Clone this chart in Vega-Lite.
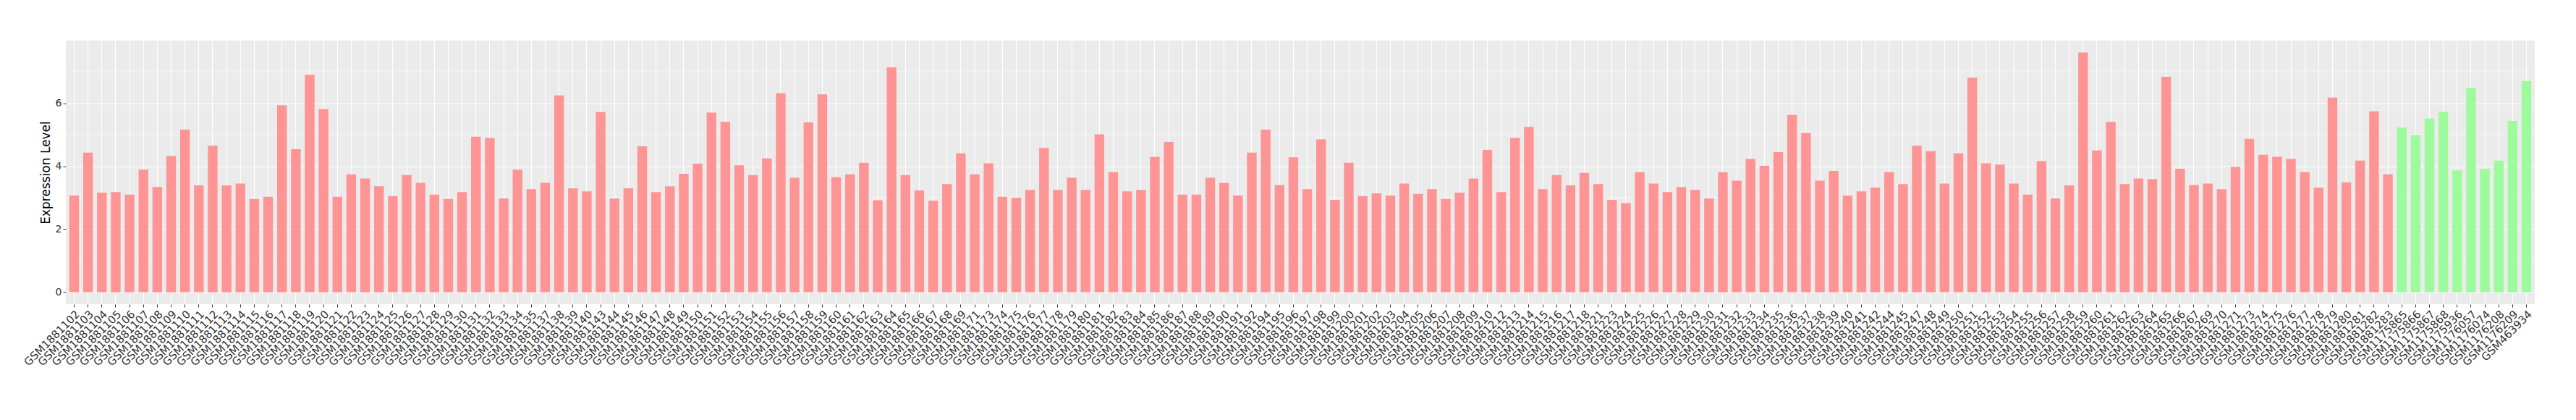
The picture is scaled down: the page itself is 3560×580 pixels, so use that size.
{
  "$schema": "https://vega.github.io/schema/vega-lite/v6.json",
  "width": 3412,
  "height": 364,
  "autosize": {"type": "none"},
  "padding": {"left": 91, "top": 56, "right": 57, "bottom": 160},
  "background": "white",
  "config": {"view": {"fill": "#EBEBEB", "stroke": null}, "font": "DejaVu Sans"},
  "data": {"values": [
    {"sample": "GSM1881102", "value": 3.07, "group": "A"},
    {"sample": "GSM1881103", "value": 4.43, "group": "A"},
    {"sample": "GSM1881104", "value": 3.16, "group": "A"},
    {"sample": "GSM1881105", "value": 3.18, "group": "A"},
    {"sample": "GSM1881106", "value": 3.10, "group": "A"},
    {"sample": "GSM1881107", "value": 3.89, "group": "A"},
    {"sample": "GSM1881108", "value": 3.34, "group": "A"},
    {"sample": "GSM1881109", "value": 4.32, "group": "A"},
    {"sample": "GSM1881110", "value": 5.16, "group": "A"},
    {"sample": "GSM1881111", "value": 3.39, "group": "A"},
    {"sample": "GSM1881112", "value": 4.65, "group": "A"},
    {"sample": "GSM1881113", "value": 3.39, "group": "A"},
    {"sample": "GSM1881114", "value": 3.45, "group": "A"},
    {"sample": "GSM1881115", "value": 2.96, "group": "A"},
    {"sample": "GSM1881116", "value": 3.03, "group": "A"},
    {"sample": "GSM1881117", "value": 5.94, "group": "A"},
    {"sample": "GSM1881118", "value": 4.54, "group": "A"},
    {"sample": "GSM1881119", "value": 6.90, "group": "A"},
    {"sample": "GSM1881120", "value": 5.81, "group": "A"},
    {"sample": "GSM1881121", "value": 3.03, "group": "A"},
    {"sample": "GSM1881122", "value": 3.74, "group": "A"},
    {"sample": "GSM1881123", "value": 3.61, "group": "A"},
    {"sample": "GSM1881124", "value": 3.36, "group": "A"},
    {"sample": "GSM1881125", "value": 3.05, "group": "A"},
    {"sample": "GSM1881126", "value": 3.72, "group": "A"},
    {"sample": "GSM1881127", "value": 3.47, "group": "A"},
    {"sample": "GSM1881128", "value": 3.10, "group": "A"},
    {"sample": "GSM1881129", "value": 2.96, "group": "A"},
    {"sample": "GSM1881130", "value": 3.18, "group": "A"},
    {"sample": "GSM1881131", "value": 4.94, "group": "A"},
    {"sample": "GSM1881132", "value": 4.90, "group": "A"},
    {"sample": "GSM1881133", "value": 2.98, "group": "A"},
    {"sample": "GSM1881134", "value": 3.89, "group": "A"},
    {"sample": "GSM1881135", "value": 3.27, "group": "A"},
    {"sample": "GSM1881137", "value": 3.47, "group": "A"},
    {"sample": "GSM1881138", "value": 6.25, "group": "A"},
    {"sample": "GSM1881139", "value": 3.30, "group": "A"},
    {"sample": "GSM1881140", "value": 3.20, "group": "A"},
    {"sample": "GSM1881143", "value": 5.72, "group": "A"},
    {"sample": "GSM1881144", "value": 2.98, "group": "A"},
    {"sample": "GSM1881145", "value": 3.30, "group": "A"},
    {"sample": "GSM1881146", "value": 4.63, "group": "A"},
    {"sample": "GSM1881147", "value": 3.18, "group": "A"},
    {"sample": "GSM1881148", "value": 3.36, "group": "A"},
    {"sample": "GSM1881149", "value": 3.76, "group": "A"},
    {"sample": "GSM1881150", "value": 4.08, "group": "A"},
    {"sample": "GSM1881151", "value": 5.70, "group": "A"},
    {"sample": "GSM1881152", "value": 5.41, "group": "A"},
    {"sample": "GSM1881153", "value": 4.03, "group": "A"},
    {"sample": "GSM1881154", "value": 3.72, "group": "A"},
    {"sample": "GSM1881155", "value": 4.25, "group": "A"},
    {"sample": "GSM1881156", "value": 6.32, "group": "A"},
    {"sample": "GSM1881157", "value": 3.63, "group": "A"},
    {"sample": "GSM1881158", "value": 5.39, "group": "A"},
    {"sample": "GSM1881159", "value": 6.28, "group": "A"},
    {"sample": "GSM1881160", "value": 3.65, "group": "A"},
    {"sample": "GSM1881161", "value": 3.74, "group": "A"},
    {"sample": "GSM1881162", "value": 4.11, "group": "A"},
    {"sample": "GSM1881163", "value": 2.92, "group": "A"},
    {"sample": "GSM1881164", "value": 7.14, "group": "A"},
    {"sample": "GSM1881165", "value": 3.72, "group": "A"},
    {"sample": "GSM1881166", "value": 3.23, "group": "A"},
    {"sample": "GSM1881167", "value": 2.90, "group": "A"},
    {"sample": "GSM1881168", "value": 3.43, "group": "A"},
    {"sample": "GSM1881169", "value": 4.41, "group": "A"},
    {"sample": "GSM1881171", "value": 3.74, "group": "A"},
    {"sample": "GSM1881173", "value": 4.09, "group": "A"},
    {"sample": "GSM1881174", "value": 3.03, "group": "A"},
    {"sample": "GSM1881175", "value": 3.00, "group": "A"},
    {"sample": "GSM1881176", "value": 3.25, "group": "A"},
    {"sample": "GSM1881177", "value": 4.58, "group": "A"},
    {"sample": "GSM1881178", "value": 3.25, "group": "A"},
    {"sample": "GSM1881179", "value": 3.63, "group": "A"},
    {"sample": "GSM1881180", "value": 3.25, "group": "A"},
    {"sample": "GSM1881181", "value": 5.01, "group": "A"},
    {"sample": "GSM1881182", "value": 3.81, "group": "A"},
    {"sample": "GSM1881183", "value": 3.20, "group": "A"},
    {"sample": "GSM1881184", "value": 3.25, "group": "A"},
    {"sample": "GSM1881185", "value": 4.30, "group": "A"},
    {"sample": "GSM1881186", "value": 4.77, "group": "A"},
    {"sample": "GSM1881187", "value": 3.10, "group": "A"},
    {"sample": "GSM1881188", "value": 3.10, "group": "A"},
    {"sample": "GSM1881189", "value": 3.63, "group": "A"},
    {"sample": "GSM1881190", "value": 3.47, "group": "A"},
    {"sample": "GSM1881191", "value": 3.07, "group": "A"},
    {"sample": "GSM1881192", "value": 4.43, "group": "A"},
    {"sample": "GSM1881194", "value": 5.16, "group": "A"},
    {"sample": "GSM1881195", "value": 3.40, "group": "A"},
    {"sample": "GSM1881196", "value": 4.28, "group": "A"},
    {"sample": "GSM1881197", "value": 3.27, "group": "A"},
    {"sample": "GSM1881198", "value": 4.85, "group": "A"},
    {"sample": "GSM1881199", "value": 2.93, "group": "A"},
    {"sample": "GSM1881200", "value": 4.11, "group": "A"},
    {"sample": "GSM1881201", "value": 3.05, "group": "A"},
    {"sample": "GSM1881202", "value": 3.14, "group": "A"},
    {"sample": "GSM1881203", "value": 3.07, "group": "A"},
    {"sample": "GSM1881204", "value": 3.45, "group": "A"},
    {"sample": "GSM1881205", "value": 3.12, "group": "A"},
    {"sample": "GSM1881206", "value": 3.27, "group": "A"},
    {"sample": "GSM1881207", "value": 2.96, "group": "A"},
    {"sample": "GSM1881208", "value": 3.16, "group": "A"},
    {"sample": "GSM1881209", "value": 3.61, "group": "A"},
    {"sample": "GSM1881210", "value": 4.52, "group": "A"},
    {"sample": "GSM1881212", "value": 3.18, "group": "A"},
    {"sample": "GSM1881213", "value": 4.90, "group": "A"},
    {"sample": "GSM1881214", "value": 5.25, "group": "A"},
    {"sample": "GSM1881215", "value": 3.27, "group": "A"},
    {"sample": "GSM1881216", "value": 3.72, "group": "A"},
    {"sample": "GSM1881217", "value": 3.39, "group": "A"},
    {"sample": "GSM1881218", "value": 3.79, "group": "A"},
    {"sample": "GSM1881221", "value": 3.43, "group": "A"},
    {"sample": "GSM1881223", "value": 2.93, "group": "A"},
    {"sample": "GSM1881224", "value": 2.83, "group": "A"},
    {"sample": "GSM1881225", "value": 3.81, "group": "A"},
    {"sample": "GSM1881226", "value": 3.45, "group": "A"},
    {"sample": "GSM1881227", "value": 3.18, "group": "A"},
    {"sample": "GSM1881228", "value": 3.34, "group": "A"},
    {"sample": "GSM1881229", "value": 3.25, "group": "A"},
    {"sample": "GSM1881230", "value": 2.98, "group": "A"},
    {"sample": "GSM1881231", "value": 3.81, "group": "A"},
    {"sample": "GSM1881232", "value": 3.54, "group": "A"},
    {"sample": "GSM1881233", "value": 4.23, "group": "A"},
    {"sample": "GSM1881234", "value": 4.01, "group": "A"},
    {"sample": "GSM1881235", "value": 4.45, "group": "A"},
    {"sample": "GSM1881236", "value": 5.63, "group": "A"},
    {"sample": "GSM1881237", "value": 5.05, "group": "A"},
    {"sample": "GSM1881238", "value": 3.54, "group": "A"},
    {"sample": "GSM1881239", "value": 3.85, "group": "A"},
    {"sample": "GSM1881240", "value": 3.07, "group": "A"},
    {"sample": "GSM1881241", "value": 3.20, "group": "A"},
    {"sample": "GSM1881242", "value": 3.32, "group": "A"},
    {"sample": "GSM1881244", "value": 3.81, "group": "A"},
    {"sample": "GSM1881245", "value": 3.43, "group": "A"},
    {"sample": "GSM1881247", "value": 4.65, "group": "A"},
    {"sample": "GSM1881248", "value": 4.48, "group": "A"},
    {"sample": "GSM1881249", "value": 3.45, "group": "A"},
    {"sample": "GSM1881250", "value": 4.41, "group": "A"},
    {"sample": "GSM1881251", "value": 6.81, "group": "A"},
    {"sample": "GSM1881252", "value": 4.09, "group": "A"},
    {"sample": "GSM1881253", "value": 4.05, "group": "A"},
    {"sample": "GSM1881254", "value": 3.45, "group": "A"},
    {"sample": "GSM1881255", "value": 3.10, "group": "A"},
    {"sample": "GSM1881256", "value": 4.16, "group": "A"},
    {"sample": "GSM1881257", "value": 2.98, "group": "A"},
    {"sample": "GSM1881258", "value": 3.39, "group": "A"},
    {"sample": "GSM1881259", "value": 7.61, "group": "A"},
    {"sample": "GSM1881260", "value": 4.50, "group": "A"},
    {"sample": "GSM1881261", "value": 5.41, "group": "A"},
    {"sample": "GSM1881262", "value": 3.43, "group": "A"},
    {"sample": "GSM1881263", "value": 3.61, "group": "A"},
    {"sample": "GSM1881264", "value": 3.59, "group": "A"},
    {"sample": "GSM1881265", "value": 6.84, "group": "A"},
    {"sample": "GSM1881266", "value": 3.92, "group": "A"},
    {"sample": "GSM1881267", "value": 3.40, "group": "A"},
    {"sample": "GSM1881269", "value": 3.45, "group": "A"},
    {"sample": "GSM1881270", "value": 3.27, "group": "A"},
    {"sample": "GSM1881271", "value": 3.98, "group": "A"},
    {"sample": "GSM1881273", "value": 4.87, "group": "A"},
    {"sample": "GSM1881274", "value": 4.36, "group": "A"},
    {"sample": "GSM1881275", "value": 4.30, "group": "A"},
    {"sample": "GSM1881276", "value": 4.23, "group": "A"},
    {"sample": "GSM1881277", "value": 3.81, "group": "A"},
    {"sample": "GSM1881278", "value": 3.32, "group": "A"},
    {"sample": "GSM1881279", "value": 6.18, "group": "A"},
    {"sample": "GSM1881280", "value": 3.49, "group": "A"},
    {"sample": "GSM1881281", "value": 4.18, "group": "A"},
    {"sample": "GSM1881282", "value": 5.74, "group": "A"},
    {"sample": "GSM1881283", "value": 3.74, "group": "A"},
    {"sample": "GSM1175865", "value": 5.23, "group": "B"},
    {"sample": "GSM1175866", "value": 4.99, "group": "B"},
    {"sample": "GSM1175867", "value": 5.52, "group": "B"},
    {"sample": "GSM1175868", "value": 5.72, "group": "B"},
    {"sample": "GSM1175936", "value": 3.87, "group": "B"},
    {"sample": "GSM1176057", "value": 6.48, "group": "B"},
    {"sample": "GSM1176074", "value": 3.92, "group": "B"},
    {"sample": "GSM1176208", "value": 4.18, "group": "B"},
    {"sample": "GSM1176209", "value": 5.44, "group": "B"},
    {"sample": "GSM463934", "value": 6.70, "group": "B"}
  ]},
  "layer": [
    {
      "data": {"values": [{"minor": 1}, {"minor": 3}, {"minor": 5}, {"minor": 7}]},
      "mark": {"type": "rule", "color": "white", "strokeWidth": 0.6},
      "encoding": {
        "y": {
          "field": "minor", "type": "quantitative",
          "scale": {"domain": [-0.38, 7.99], "nice": false, "zero": false},
          "axis": {
            "title": "Expression Level", "values": [0, 2, 4, 6],
            "grid": true, "gridColor": "white", "gridWidth": 1.1, "domain": false,
            "tickColor": "#333333", "tickSize": 4, "tickWidth": 1,
            "labelColor": "#333333", "labelFontSize": 14, "labelFont": "DejaVu Sans", "labelPadding": 2,
            "titleFontSize": 17, "titleFontWeight": "normal", "titleColor": "black", "titleFont": "DejaVu Sans", "titlePadding": 4
          }
        }
      }
    },
    {
      "mark": {"type": "bar"},
      "encoding": {
        "x": {
          "field": "sample", "type": "nominal", "sort": null,
          "scale": {"paddingInner": 0.3, "paddingOuter": 0.25},
          "axis": {
            "title": null, "labelAngle": -45, "labelAlign": "right", "labelBaseline": "top",
            "labelFontSize": 15, "labelColor": "#333333", "labelFont": "DejaVu Sans",
            "tickColor": "#333333", "tickSize": 4, "tickWidth": 1, "domain": false,
            "grid": true, "gridColor": "white", "gridWidth": 1.1, "bandPosition": 0.5,
            "labelPadding": 2, "labelOverlap": false, "labelBound": false
          }
        },
        "y": {
          "field": "value", "type": "quantitative",
          "scale": {"domain": [-0.38, 7.99], "nice": false, "zero": false},
          "axis": {
            "title": "Expression Level", "values": [0, 2, 4, 6],
            "grid": true, "gridColor": "white", "gridWidth": 1.1, "domain": false,
            "tickColor": "#333333", "tickSize": 4, "tickWidth": 1,
            "labelColor": "#333333", "labelFontSize": 14, "labelFont": "DejaVu Sans", "labelPadding": 2,
            "titleFontSize": 17, "titleFontWeight": "normal", "titleColor": "black", "titleFont": "DejaVu Sans", "titlePadding": 4
          }
        },
        "y2": {"datum": 0},
        "color": {
          "field": "group", "type": "nominal",
          "scale": {"domain": ["A", "B"], "range": ["#FF9494", "#9DFB9D"]},
          "legend": null
        }
      }
    }
  ]
}
